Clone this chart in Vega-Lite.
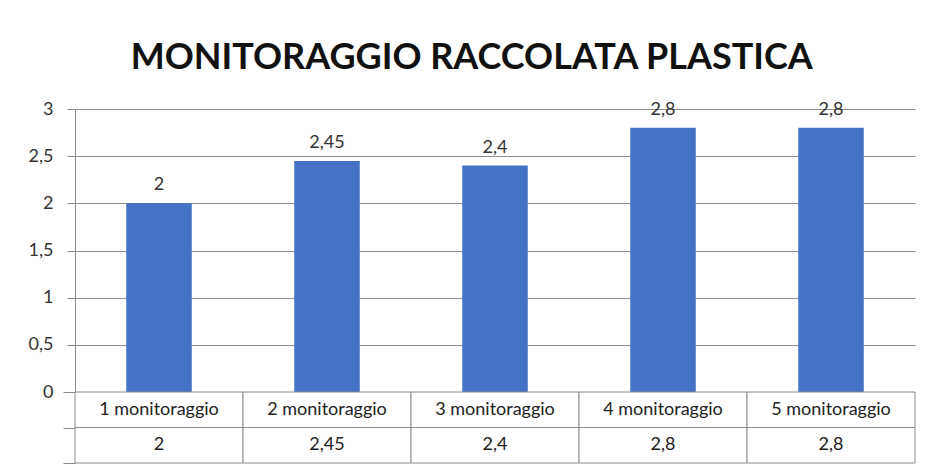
{
  "$schema": "https://vega.github.io/schema/vega-lite/v6.json",
  "background": "white",
  "padding": {"left": 28, "top": 40, "right": 17, "bottom": 5},
  "title": {
    "text": "MONITORAGGIO  RACCOLATA PLASTICA",
    "font": "Lato",
    "fontSize": 36,
    "fontWeight": "bold",
    "color": "#111111",
    "anchor": "middle",
    "offset": 23
  },
  "data": {
    "values": [
      {"cat": "1 monitoraggio", "value": 2},
      {"cat": "2  monitoraggio", "value": 2.45},
      {"cat": "3  monitoraggio", "value": 2.4},
      {"cat": "4  monitoraggio", "value": 2.8},
      {"cat": "5  monitoraggio", "value": 2.8}
    ]
  },
  "spacing": 0,
  "bounds": "flush",
  "vconcat": [
    {
      "width": 840,
      "height": 283,
      "layer": [
        {
          "mark": {"type": "bar", "color": "#4472C4", "width": {"band": 0.39}},
          "encoding": {
            "x": {"field": "cat", "type": "nominal", "sort": null, "axis": null,
                  "scale": {"paddingInner": 0, "paddingOuter": 0}},
            "y": {"field": "value", "type": "quantitative",
                  "scale": {"domain": [0, 3], "nice": false},
                  "axis": {
                    "title": null,
                    "values": [0, 0.5, 1, 1.5, 2, 2.5, 3],
                    "format": "~g",
                    "labelFont": "Lato",
                    "labelFontSize": 18,
                    "labelColor": "#333333",
                    "labelPadding": 14,
                    "tickSize": 8,
                    "tickColor": "#8c8c8c",
                    "domainColor": "#8c8c8c",
                    "gridColor": "#8c8c8c",
                    "grid": true,
                    "minExtent": 47,
                    "maxExtent": 47
                  }}
          }
        },
        {
          "mark": {"type": "text", "baseline": "bottom", "dy": -9, "font": "Lato", "fontSize": 18, "color": "#333333"},
          "encoding": {
            "x": {"field": "cat", "type": "nominal", "sort": null},
            "y": {"field": "value", "type": "quantitative"},
            "text": {"field": "value", "type": "quantitative", "format": "~g"}
          }
        }
      ]
    },
    {
      "width": 840,
      "height": 71,
      "encoding": {
        "x": {"field": "cat", "type": "nominal", "sort": null, "axis": null,
              "scale": {"paddingInner": 0, "paddingOuter": 0}}
      },
      "layer": [
        {
          "mark": {"type": "rect", "fill": "white", "stroke": "#8c8c8c", "strokeWidth": 1},
          "encoding": {
            "y": {"datum": "r1", "type": "nominal",
                  "scale": {"domain": ["r1", "r2"], "paddingInner": 0, "paddingOuter": 0},
                  "axis": {"title": null, "labels": false, "domain": false, "grid": false,
                           "ticks": true, "tickBand": "extent", "tickSize": 12, "tickColor": "#8c8c8c",
                           "minExtent": 47, "maxExtent": 47}}
          }
        },
        {
          "mark": {"type": "rect", "fill": "white", "stroke": "#8c8c8c", "strokeWidth": 1},
          "encoding": {
            "y": {"datum": "r2", "type": "nominal"}
          }
        },
        {
          "mark": {"type": "text", "font": "Lato", "fontSize": 18, "color": "#222222"},
          "encoding": {
            "y": {"datum": "r1", "type": "nominal"},
            "text": {"field": "cat", "type": "nominal"}
          }
        },
        {
          "mark": {"type": "text", "font": "Lato", "fontSize": 18, "color": "#222222"},
          "encoding": {
            "y": {"datum": "r2", "type": "nominal"},
            "text": {"field": "value", "type": "quantitative", "format": "~g"}
          }
        }
      ]
    }
  ],
  "config": {
    "view": {"stroke": null},
    "locale": {"number": {"decimal": ",", "thousands": ".", "grouping": [3], "currency": ["€", ""]}}
  }
}
